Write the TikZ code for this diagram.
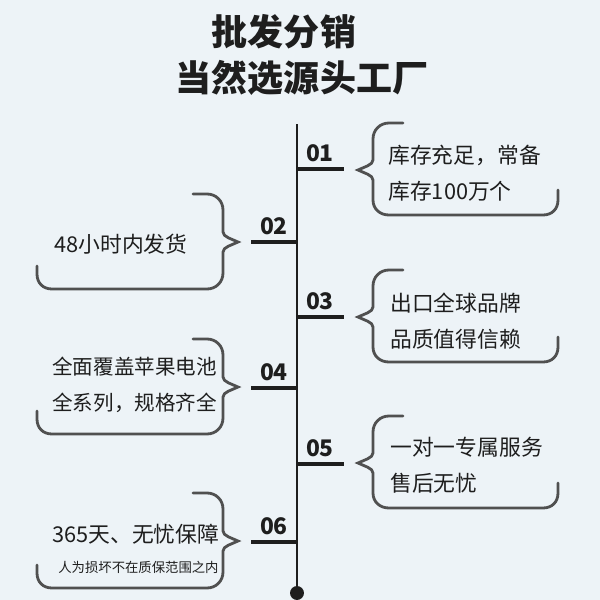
\documentclass[tikz,border=0pt]{standalone}
\usepackage{fontspec}
\newfontfamily\cjk{Noto Sans CJK SC}
\definecolor{bgblue}{HTML}{EDF3F7}
\definecolor{bracegray}{HTML}{505050}
\definecolor{inkblack}{HTML}{1E1E1E}
\tikzstyle{headline}=[font=\cjk\bfseries\fontsize{20.5}{24}\selectfont, text=inkblack, inner sep=0]
\tikzstyle{num}=[font=\cjk\bfseries\fontsize{13}{14}\selectfont, text=inkblack, inner sep=0]
\tikzstyle{body}=[font=\cjk\fontsize{12.4}{20.5}\selectfont, text=inkblack, align=left, inner sep=0, anchor=west]
\tikzstyle{bar}=[line width=2.4pt, draw=inkblack]
\tikzstyle{axis}=[line width=1pt, draw=inkblack]
\tikzstyle{dot}=[circle, fill=inkblack, minimum size=14*0.567pt, inner sep=0]
\tikzstyle{brace}=[bracegray, line width=1.6pt, line cap=round]
\tikzset{
  rbrace/.pic={
    \draw[brace]
      (45,-47) -- (31,-47) .. controls (22,-47) and (15,-40) .. (15,-31)
      -- (15,-10) .. controls (15,-5) and (6,-3) .. (0,0)
      .. controls (6,3) and (15,5) .. (15,10)
      -- (15,30) .. controls (15,39) and (22,45) .. (31,45)
      -- (185,45) .. controls (194,45) and (200,39) .. (200,30) -- (200,20);
  },
  lbrace/.pic={
    \draw[brace]
      (-45,-48) -- (-31,-48) .. controls (-22,-48) and (-15,-41) .. (-15,-32)
      -- (-15,-10) .. controls (-15,-5) and (-6,-3) .. (0,0)
      .. controls (-6,3) and (-15,5) .. (-15,10)
      -- (-15,31) .. controls (-15,40) and (-22,47) .. (-31,47)
      -- (-186,47) .. controls (-195,47) and (-201,41) .. (-201,32) -- (-201,24);
  }
}

\begin{document}
\begin{tikzpicture}[x=0.02cm, y=-0.02cm]

\fill [bgblue] (0,0) rectangle (600,600);
\useasboundingbox (0,0) rectangle (600,600);

% title
\node [headline] (title1) at (284,32) {批发分销};
\node [headline] (title2) at (302,78) {当然选源头工厂};

% timeline
\coordinate (top) at (297,124);
\node [dot] (end) at (297,593) {};
\draw [axis] (top) -- (end);

% bars
\coordinate (t1) at (297,169); \coordinate (e1) at (344,169);
\coordinate (t2) at (297,242); \coordinate (e2) at (251,242);
\coordinate (t3) at (297,317); \coordinate (e3) at (344,317);
\coordinate (t4) at (297,388); \coordinate (e4) at (251,388);
\coordinate (t5) at (297,464); \coordinate (e5) at (344,464);
\coordinate (t6) at (297,542); \coordinate (e6) at (251,542);

\draw [bar] (t1) -- (e1);
\draw [bar] (t2) -- (e2);
\draw [bar] (t3) -- (e3);
\draw [bar] (t4) -- (e4);
\draw [bar] (t5) -- (e5);
\draw [bar] (t6) -- (e6);

\node [num] (n1) at (320,153) {01};
\node [num] (n2) at (274,226) {02};
\node [num] (n3) at (320,301) {03};
\node [num] (n4) at (274,372) {04};
\node [num] (n5) at (320,448) {05};
\node [num] (n6) at (274,526) {06};

% brackets
\pic (b1) at (358,170) {rbrace};
\pic (b2) at (238,242) {lbrace};
\pic (b3) at (358,317) {rbrace};
\pic (b4) at (238,387) {lbrace};
\pic (b5) at (358,463) {rbrace};
\pic (b6) at (238,541) {lbrace};

% texts
\node [body] (txt1) at (388,173) {库存充足，常备\\库存100万个};
\node [body] (txt2) at (54,244) {48小时内发货};
\node [body] (txt3) at (390,321) {出口全球品牌\\品质值得信赖};
\node [body, font=\cjk\fontsize{11.7}{20.5}\selectfont] (txt4) at (52,385) {全面覆盖苹果电池\\全系列，规格齐全};
\node [body] (txt5) at (390,465) {一对一专属服务\\售后无忧};
\node [body] (txt6) at (52,534) {365天、无忧保障};
\node [body, font=\cjk\fontsize{7.6}{9}\selectfont] (note6) at (58,567) {人为损坏不在质保范围之内};

\end{tikzpicture}
\end{document}
